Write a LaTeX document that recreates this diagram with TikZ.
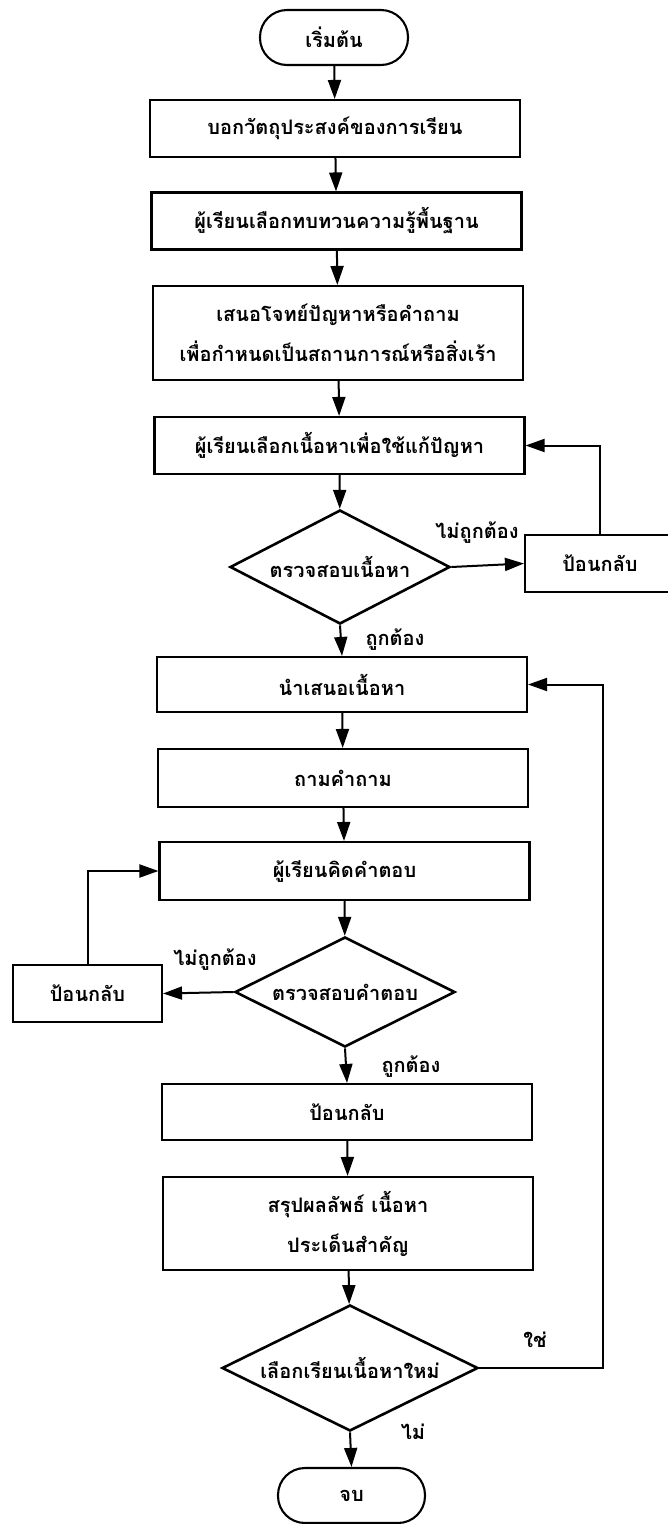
\documentclass[tikz,border=0pt]{standalone}
\usepackage{fontspec}
\newfontfamily\thaifont[Script=Thai]{Loma}
\usetikzlibrary{shapes.geometric,arrows.meta}
\newcommand{\dtext}[1]{\makebox[0pt]{#1}}
\begin{document}
\begin{tikzpicture}[x=1pt,y=-1pt,
  every node/.style={font=\thaifont\bfseries\fontsize{20}{40}\selectfont},
  box/.style={draw, line width=2.1pt, minimum width=370pt, minimum height=57pt, inner sep=0pt, align=center},
  pill/.style={draw, line width=2.1pt, rounded corners=27pt, minimum width=148pt, minimum height=55pt, inner sep=0pt},
  dec/.style={draw, diamond, line width=2.6pt, inner sep=0pt, aspect=1},
  lab/.style={inner sep=0pt},
  flow/.style={line width=2pt, -{Triangle[length=19pt,width=13pt]}}
]
\useasboundingbox (0,0) rectangle (667,1524);

% main column
\node[pill] (start) at (334,37.5) {เริ่มต้น};
\node[box] (b1) at (335,128.5) {บอกวัตถุประสงค์ของการเรียน};
\node[box] (b2) at (336.5,221) {ผู้เรียนเลือกทบทวนความรู้พื้นฐาน};
\node[box, minimum height=94pt] (b3) at (338,333) {เสนอโจทย์ปัญหาหรือคำถาม\\เพื่อกำหนดเป็นสถานการณ์หรือสิ่งเร้า};
\node[box] (b4) at (339.5,445.5) {ผู้เรียนเลือกเนื้อหาเพื่อใช้แก้ปัญหา};
\node[dec, minimum width=220pt, minimum height=114pt] (d1) at (340,567) {\dtext{ตรวจสอบเนื้อหา}};
\node[box, minimum width=150pt] (fb1) at (600,563.5) {ป้อนกลับ};
\node[box, minimum height=55pt] (b5) at (342,684.5) {นำเสนอเนื้อหา};
\node[box, minimum height=58pt] (b6) at (343,778) {ถามคำถาม};
\node[box, minimum height=58pt] (b7) at (344.5,871) {ผู้เรียนคิดคำตอบ};
\node[dec, minimum width=220pt, minimum height=110pt] (d2) at (345,992) {\dtext{ตรวจสอบคำตอบ}};
\node[box, minimum width=149pt] (fb2) at (87.5,993.5) {ป้อนกลับ};
\node[box, minimum height=56pt] (b8) at (347,1112) {ป้อนกลับ};
\node[box, minimum height=93pt] (b9) at (348,1223.5) {สรุปผลลัพธ์ เนื้อหา\\ประเด็นสำคัญ};
\node[dec, minimum width=256pt, minimum height=126pt] (d3) at (350,1368) {\dtext{เลือกเรียนเนื้อหาใหม่}};
\node[pill, minimum width=147pt] (end) at (351.5,1495.5) {จบ};

\coordinate (loopx) at (603,0);

% connectors
\draw[flow] (start) -- (b1);
\draw[flow] (b1) -- (b2);
\draw[flow] (b2) -- (b3);
\draw[flow] (b3) -- (b4);
\draw[flow] (b4) -- (d1);
\draw[flow] (d1.east) -- (fb1.west);
\draw[flow] (fb1.north) |- (b4.east);
\draw[flow] (d1.south) -- (b5.north);
\draw[flow] (b5) -- (b6);
\draw[flow] (b6) -- (b7);
\draw[flow] (b7) -- (d2);
\draw[flow] (d2.west) -- (fb2.east);
\draw[flow] (fb2.north) |- (b7.west);
\draw[flow] (d2.south) -- (b8.north);
\draw[flow] (b8) -- (b9);
\draw[flow] (b9) -- (d3);
\draw[flow] (d3.east) -- (d3.east -| loopx) -- (loopx |- b5.east) -- (b5.east);
\draw[flow] (d3.south) -- (end.north);

% labels
\node[lab] (l1) at (477,533) {ไม่ถูกต้อง};
\node[lab] (l2) at (395,640) {ถูกต้อง};
\node[lab] (l3) at (215,960) {ไม่ถูกต้อง};
\node[lab] (l4) at (411,1067) {ถูกต้อง};
\node[lab] (l5) at (535,1340) {ใช่};
\node[lab] (l6) at (413,1432) {ไม่};
\end{tikzpicture}
\end{document}
